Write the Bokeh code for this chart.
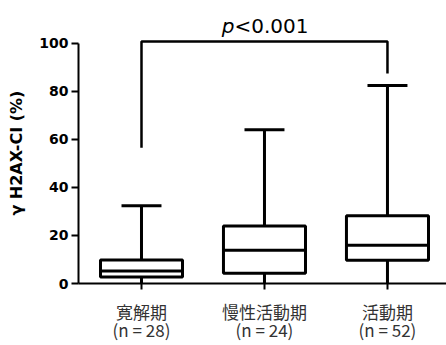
from bokeh.plotting import figure
from bokeh.models import FixedTicker, ColumnDataSource, Range1d
from bokeh.core.properties import value
from bokeh.embed import file_html
from bokeh.resources import INLINE

# ---- data ----
group_labels = ["寛解期\n(n = 28)", "慢性活動期\n(n = 24)", "活動期\n(n = 52)"]
positions = [1, 2, 3]
whisker_low = [0.0, 0.0, 0.0]
q1 = [2.7, 4.3, 9.7]
median = [5.2, 13.9, 15.9]
q3 = [9.8, 24.0, 28.2]
whisker_high = [32.4, 64.1, 82.5]
y_ticks = [0, 20, 40, 60, 80, 100]
bracket_top = 100.8
bracket_left_end = 56.6
bracket_right_end = 87.5
p_label_y = 107.3

box_w = 0.667
cap_w = 0.325

p = figure(width=446, height=345, output_backend="svg", toolbar_location=None,
           x_range=Range1d(0.4878, 3.48), y_range=Range1d(0, 117.9),
           min_border_left=78, min_border_right=0, min_border_top=0, min_border_bottom=62)
p.outline_line_color = None
p.grid.visible = False
p.background_fill_color = "white"

src = ColumnDataSource(dict(
    x=positions, lo=whisker_low, q1=q1, med=median, q3=q3, hi=whisker_high,
    xl=[x - box_w / 2 for x in positions], xr=[x + box_w / 2 for x in positions],
    cl=[x - cap_w / 2 for x in positions], cr=[x + cap_w / 2 for x in positions],
))

LW = 3
# whiskers
p.segment(x0="x", y0="q3", x1="x", y1="hi", source=src, line_color="black", line_width=LW)
p.segment(x0="x", y0="lo", x1="x", y1="q1", source=src, line_color="black", line_width=LW)
p.segment(x0="cl", y0="hi", x1="cr", y1="hi", source=src, line_color="black", line_width=LW)
# boxes
p.quad(left="xl", right="xr", bottom="q1", top="q3", source=src,
       fill_color="white", line_color="black", line_width=LW)
p.segment(x0="xl", y0="med", x1="xr", y1="med", source=src, line_color="black", line_width=LW)

# bracket
bx0, bx1 = positions[0], positions[2]
p.line(x=[bx0, bx0, bx1, bx1], y=[bracket_left_end, bracket_top, bracket_top, bracket_right_end],
       line_color="black", line_width=2.5)
mid = (bx0 + bx1) / 2
p.text(x=[mid], y=[p_label_y], text=["p"], text_font=value("DejaVu Sans"),
       text_font_style="italic", text_font_size="20px", text_align="right",
       text_baseline="alphabetic", x_offset=-30, text_color="black")
p.text(x=[mid], y=[p_label_y], text=["<0.001"], text_font=value("DejaVu Sans"),
       text_font_size="20px", text_align="left",
       text_baseline="alphabetic", x_offset=-30, text_color="black")

# y axis
ya = p.yaxis[0]
ya.ticker = FixedTicker(ticks=y_ticks)
ya.bounds = (0, 100)
ya.minor_tick_line_color = None
ya.major_tick_in = 0
ya.major_tick_out = 7
ya.major_tick_line_width = 2
ya.axis_line_width = 2
ya.major_label_standoff = 3
ya.major_label_text_font = "DejaVu Sans"
ya.major_label_text_font_style = "bold"
ya.major_label_text_font_size = "14px"
ya.major_label_text_color = "black"
ya.axis_label = "γ H2AX-CI (%)" + "\u00a0" * 4
ya.axis_label_text_font = "DejaVu Sans"
ya.axis_label_text_font_style = "bold"
ya.axis_label_text_font_size = "16px"
ya.axis_label_standoff = 10
ya.axis_label_text_color = "black"

# x axis
xa = p.xaxis[0]
xa.ticker = FixedTicker(ticks=positions)
xa.major_label_overrides = {pos: lab for pos, lab in zip(positions, group_labels)}
xa.minor_tick_line_color = None
xa.major_tick_in = 0
xa.major_tick_out = 6
xa.major_tick_line_width = 2
xa.axis_line_width = 2
xa.major_label_standoff = 9
xa.major_label_text_font = "Noto Sans CJK JP"
xa.major_label_text_font_size = "17px"
xa.major_label_text_color = "#333333"
xa.major_label_text_line_height = 0.72

open("out.html", "w").write(file_html(p, INLINE))
